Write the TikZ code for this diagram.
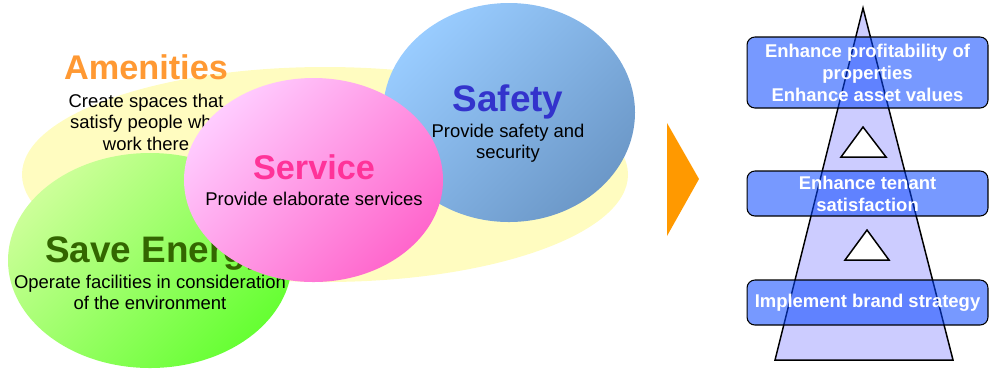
\documentclass[tikz,border=0pt]{standalone}
\usepackage{fontspec}
\setmainfont{Liberation Sans}
\usetikzlibrary{shapes.geometric}

\definecolor{paleyellow}{HTML}{FFFCC0}
\definecolor{amenorange}{HTML}{FF9933}
\definecolor{energygreen}{HTML}{336600}
\definecolor{servicepink}{HTML}{FF3399}
\definecolor{safetyblue}{HTML}{3333CC}
\definecolor{arroworange}{HTML}{FF9900}
\definecolor{towerlilac}{HTML}{CCCCFF}
\definecolor{goalblue}{RGB}{8,70,255}

\tikzset{
	heading/.style={font=\fontsize{19.5}{22}\selectfont\bfseries, inner sep=0, anchor=base},
	bigheading/.style={heading, font=\fontsize{21}{24}\selectfont\bfseries},
	blurb/.style={font=\fontsize{10.5}{12.3}\selectfont, align=center, inner sep=0},
	goalbox/.style={draw=black, line width=0.6pt, rounded corners=4.5pt, fill=goalblue, fill opacity=0.55, text opacity=1, text=white,
		font=\fontsize{10.5}{12.5}\selectfont\bfseries, align=center, minimum width=4.82cm, inner sep=0},
}

\begin{document}
\begin{tikzpicture}[x=0.02cm, y=-0.02cm]
				\useasboundingbox (0,0) rectangle (989,370);
				
				% four fields of activity
				\fill[paleyellow] (325,174.5) ellipse [x radius=303, y radius=107.5];
				\shade[top color={rgb,255:red,204;green,255;blue,153}, bottom color={rgb,255:red,102;green,255;blue,51}, shading angle=45]
					(150,260.5) ellipse [x radius=142, y radius=107.5];
				
				\node[heading, text=amenorange] (amenities) at (146,79) {Amenities};
				\node[blurb, anchor=north] (amenitiestext) at (146,93.6) {Create spaces that\\satisfy people who\\work there};
				\node[bigheading, text=energygreen] (energy) at (156,262) {Save Energy};
				\node[blurb, anchor=north] (energytext) at (150,274.6) {Operate facilities in consideration\\of the environment};
				
				\shade[top color={rgb,255:red,153;green,204;blue,255}, bottom color={rgb,255:red,108;green,152;blue,200}, shading angle=45]
					(509,112.5) ellipse [x radius=126, y radius=109.5];
				\shade[top color={rgb,255:red,255;green,204;blue,255}, bottom color={rgb,255:red,255;green,102;blue,204}, shading angle=45]
					(313.5,180) ellipse [x radius=129.5, y radius=102];
				
				\node[bigheading, text=safetyblue] (safety) at (508,111) {Safety};
				\node[blurb, anchor=north] (safetytext) at (508,123.6) {Provide safety and\\security};
				\node[heading, text=servicepink] (service) at (314,179) {Service};
				\node[blurb, anchor=base] (servicetext) at (314,205) {Provide elaborate services};
				
				\fill[arroworange] (667,123) -- (699,179) -- (667,236) -- cycle;
				
				% goal tower
				\draw[fill=towerlilac, line width=0.85pt] (863,8) -- (953,360) -- (775,360) -- cycle;
				\draw[fill=white, line width=0.85pt] (863,127) -- (886,157) -- (841,157) -- cycle;
				\draw[fill=white, line width=0.85pt] (867,230) -- (889,260) -- (845,260) -- cycle;
				
				\node[goalbox, minimum height=1.42cm] (profit) at (867.5,72.5) {Enhance profitability of\\properties\\Enhance asset values};
				\node[goalbox, minimum height=0.9cm] (tenant) at (867.5,193.5) {Enhance tenant\\satisfaction};
				\node[goalbox, minimum height=0.9cm] (brand) at (867.5,302.5) {Implement brand strategy};
			\end{tikzpicture}
\end{document}
